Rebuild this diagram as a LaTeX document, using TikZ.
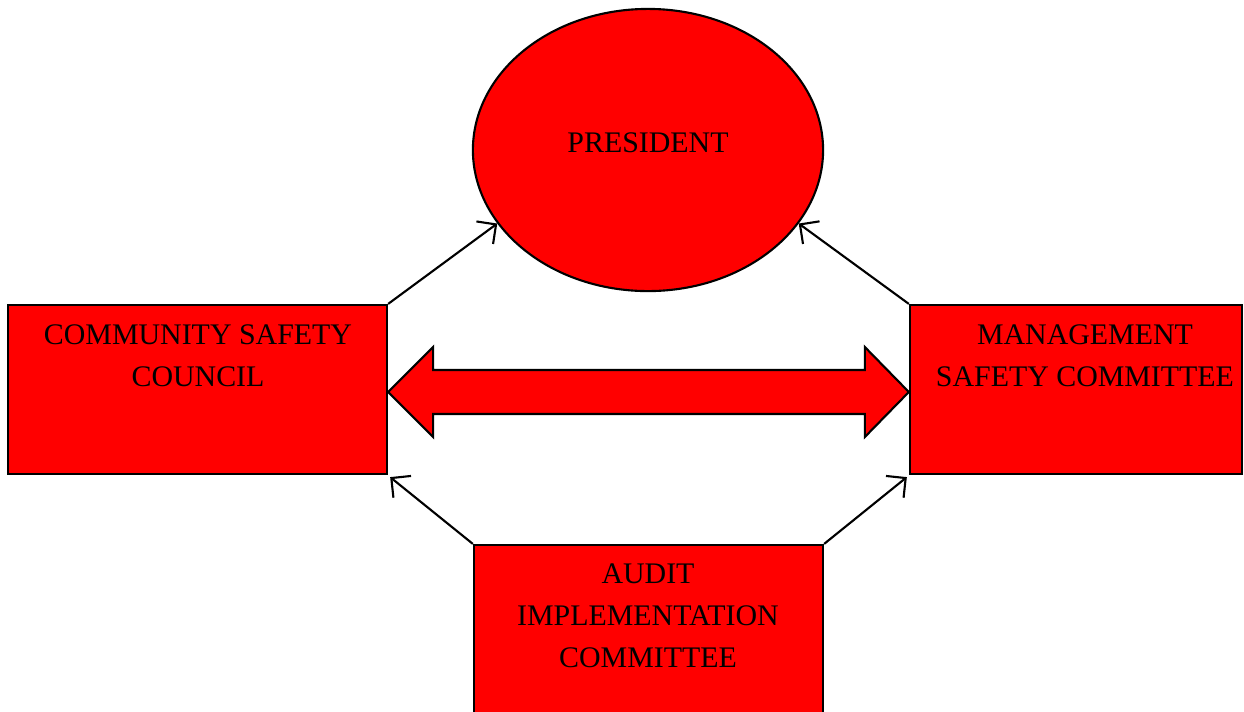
\documentclass[tikz,border=0pt]{standalone}
\usepackage{fontspec}
\setmainfont{Liberation Serif}
\usetikzlibrary{shapes.geometric,arrows.meta,calc}
\begin{document}
\begin{tikzpicture}[x=0.01cm,y=-0.01cm,
  box/.style={draw=black,fill=red,line width=0.6pt,inner sep=0pt},
  lbl/.style={align=center,font=\fontsize{8.5}{12}\selectfont,inner sep=0pt},
  conn/.style={draw=black,line width=0.6pt,-{Straight Barb[length=1.4mm,width=2.8mm,line width=0.6pt]}}]
\useasboundingbox (0,0) rectangle (1244,711);
\node[box,ellipse,minimum width=3.5cm,minimum height=2.82cm] (pres) at (648,150) {};
\node[box,rectangle,minimum width=3.79cm,minimum height=1.69cm] (csc) at (197.5,389.5) {};
\node[box,rectangle,minimum width=3.32cm,minimum height=1.69cm] (msc) at (1076,389.5) {};
\node[box,rectangle,minimum width=3.49cm,minimum height=1.9cm] (aic) at (648.5,640) {};
\node[lbl] (tpres) at (648,143) {PRESIDENT};
\node[lbl] (tcsc) at (198,356) {COMMUNITY SAFETY\\COUNCIL};
\node[lbl] (tmsc) at (1085,356) {MANAGEMENT\\SAFETY COMMITTEE};
\node[lbl] (taic) at (648,616) {AUDIT\\IMPLEMENTATION\\COMMITTEE};
\coordinate (dl) at ($(csc.east)+(0,2.5)$);
\coordinate (dr) at ($(msc.west)+(0,2.5)$);
\draw[box] (dl) -- ++(45,-45) -- ++(0,23) -- ($(dr)+(-44,-22)$) -- ++(0,-23) -- (dr) -- ++(-44,45) -- ++(0,-23) -- ($(dl)+(45,22)$) -- ++(0,23) -- cycle;
\draw[conn] (csc.north east) -- (pres.206);
\draw[conn] (msc.north west) -- (pres.334);
\draw[conn] (aic.north west) -- ($(csc.south east)+(2,2)$);
\draw[conn] (aic.north east) -- ($(msc.south west)+(-2,2)$);
\end{tikzpicture}
\end{document}
